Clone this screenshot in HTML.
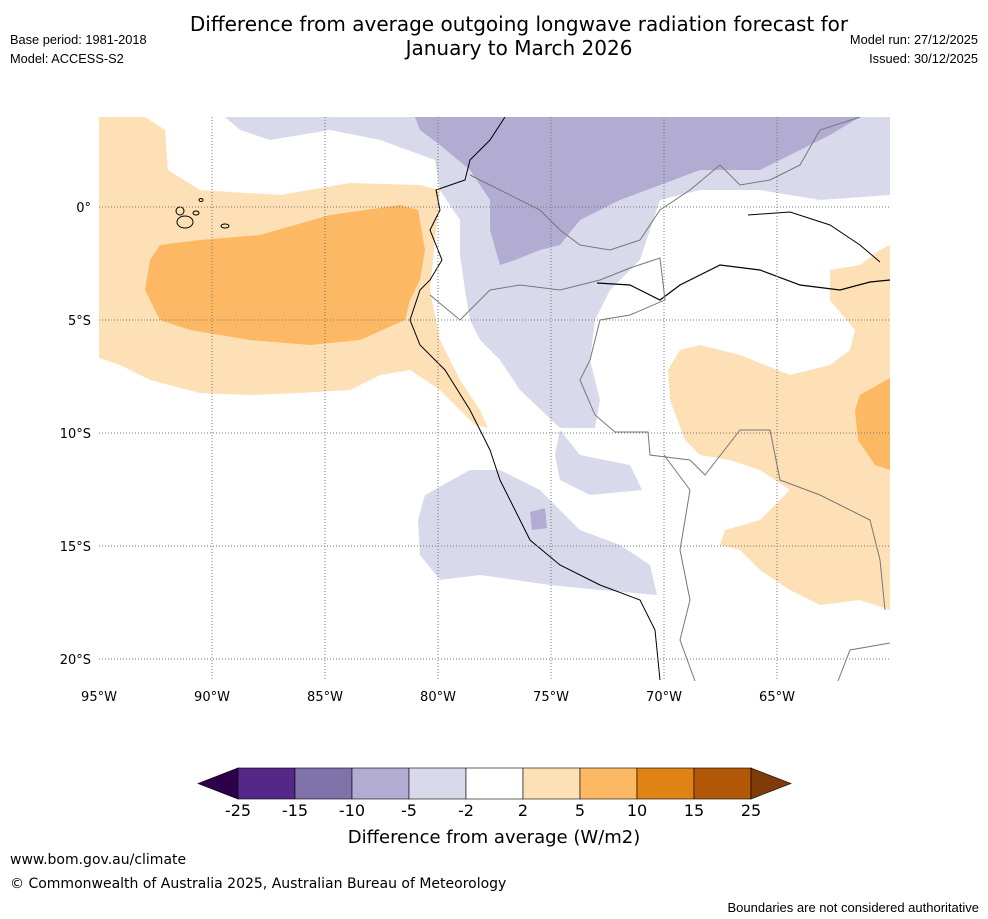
<!DOCTYPE html>
<html><head><meta charset="utf-8">
<style>
body{margin:0;background:#fff;font-family:"Liberation Sans",sans-serif;}
#wrap{position:relative;width:988px;height:919px;overflow:hidden;background:#fff;}
.t{position:absolute;white-space:nowrap;color:#000;}
.dv{font-family:"DejaVu Sans",sans-serif;}
</style></head>
<body>
<div id="wrap">
<div class="t dv" style="left:0;width:1038px;text-align:center;top:12px;font-size:20px;line-height:24px">Difference from average outgoing longwave radiation forecast for<br>January to March 2026</div>
<div class="t" style="left:10px;top:32px;font-size:12.8px">Base period: 1981-2018</div>
<div class="t" style="left:10px;top:51px;font-size:12.8px">Model: ACCESS-S2</div>
<div class="t" style="right:10px;top:32px;font-size:12.8px">Model run: 27/12/2025</div>
<div class="t" style="right:10px;top:51px;font-size:12.8px">Issued: 30/12/2025</div>
<div class="t dv" style="left:10px;top:852px;font-size:14px">www.bom.gov.au/climate</div>
<div class="t dv" style="left:10px;top:876px;font-size:14px">© Commonwealth of Australia 2025, Australian Bureau of Meteorology</div>
<div class="t" style="right:9px;top:900px;font-size:13px">Boundaries are not considered authoritative</div>

<svg id="svg" width="988" height="919" style="position:absolute;left:0;top:0">
<defs><clipPath id="mc"><rect x="99" y="117" width="791" height="564"/></clipPath></defs>
<g clip-path="url(#mc)">
<polygon fill="#fee0b6" points="99,117 145,117 165,130 168,170 200,190 280,195 350,183 420,185 440,190 436,230 430,290 440,340 460,380 480,410 488,428 475,425 440,390 410,370 380,375 350,390 300,393 250,395 200,393 150,380 120,365 99,358"/>
<polygon fill="#fdb863" points="160,245 200,240 260,235 330,215 400,205 418,210 425,250 420,280 410,300 405,320 360,340 310,345 250,340 190,330 160,320 145,290 150,260"/>
<polygon fill="#d8daeb" points="225,117 890,117 890,195 820,200 760,190 700,190 660,200 650,230 640,260 610,290 595,320 590,360 600,400 595,428 560,428 520,390 500,360 480,340 470,320 465,290 460,255 460,220 440,190 435,160 380,140 330,130 270,140 240,130"/>
<polygon fill="#b2abd2" points="415,117 860,117 830,135 800,150 760,170 700,170 660,185 620,200 580,220 560,245 540,250 515,260 500,265 490,230 490,200 470,170 440,145 420,130"/>
<polygon fill="#d8daeb" points="560,430 580,455 630,465 642,490 590,495 560,480 555,455"/>
<polygon fill="#d8daeb" points="425,495 470,470 500,470 540,490 580,530 620,545 650,565 657,595 600,590 550,585 480,575 440,580 420,555 418,520"/>
<polygon fill="#b2abd2" points="530,512 545,508 547,528 532,530"/>
<polygon fill="#fee0b6" points="680,350 700,345 740,355 790,375 830,365 850,350 855,330 830,300 830,270 860,265 880,250 890,245 890,610 860,600 820,605 790,590 760,570 740,550 720,545 725,530 760,520 790,490 760,470 730,460 700,455 685,440 670,400 668,370"/>
<polygon fill="#fdb863" points="860,395 890,378 890,470 875,465 858,440 855,410"/>
<polyline fill="none" stroke="#000" stroke-width="1" points="505,117 490,140 470,160 465,180 436,190 440,210 430,230 442,260 430,280 420,290 410,320 420,345 445,370 470,410 490,450 500,480 515,510 530,540 560,565 600,585 640,600 655,630 660,680"/>
<polyline fill="none" stroke="#000" stroke-width="1.2" points="597,283 630,285 660,300 680,285 700,275 720,265 760,270 800,285 840,290 870,282 890,280"/>
<polyline fill="none" stroke="#000" stroke-width="1" points="748,215 790,212 830,225 860,245 880,262"/>
<g fill="none" stroke="#777" stroke-width="1">
<polyline points="470,175 500,190 540,210 560,230 580,245 610,250 640,240 660,210 690,190 720,165 740,185 770,180 800,165 820,130 860,117"/>
<polyline points="430,295 460,320 490,290 520,285 560,290 600,280 630,268 660,258 665,300 630,315 600,320 590,360 580,380 595,415 615,432 648,432 650,455 690,460 705,475 740,430 770,430 780,480 820,495 870,520 880,560 885,610"/>
<polyline points="664,455 690,490 680,550 690,600 680,640 695,681"/>
<polyline points="838,681 850,650 890,643"/>
</g>
<g fill="none" stroke="#000" stroke-width="1">
<ellipse cx="185" cy="222" rx="8" ry="6"/><ellipse cx="180" cy="211" rx="4" ry="4"/><ellipse cx="196" cy="213" rx="3" ry="2"/><ellipse cx="225" cy="226" rx="4" ry="2"/><ellipse cx="201" cy="200" rx="2" ry="1.5"/>
</g>
</g>
<g id="grid" stroke="#777" stroke-width="1" stroke-dasharray="1,2"></g>
<g id="axes" font-family="DejaVu Sans,sans-serif" font-size="13"></g>
<g id="cbar"></g>
<text x="494" y="843" text-anchor="middle" font-size="18" font-family="DejaVu Sans,sans-serif">Difference from average (W/m2)</text>
</svg>
</div>
<script>
const lonTicks=[-95,-90,-85,-80,-75,-70,-65];
const lonLabels=["95°W","90°W","85°W","80°W","75°W","70°W","65°W"];
const latTicks=[0,-5,-10,-15,-20];
const latLabels=["0°","5°S","10°S","15°S","20°S"];
const cbLevels=[-25,-15,-10,-5,-2,2,5,10,15,25];
const cbColors=["#542788","#8073ac","#b2abd2","#d8daeb","#ffffff","#fee0b6","#fdb863","#e08214","#b35806"];
const cbUnder="#2d004b", cbOver="#7f3b08";
const NS="http://www.w3.org/2000/svg";
function xLon(l){return 99+(l+95)*22.6;}
function yLat(l){return 207-l*22.6;}
function mk(t,a,p){const e=document.createElementNS(NS,t);for(const k in a)e.setAttribute(k,a[k]);p.appendChild(e);return e;}
const grid=document.getElementById('grid'),axes=document.getElementById('axes');
lonTicks.forEach((l,i)=>{
 const x=xLon(l);
 if(i>0){const g=mk('line',{x1:x,x2:x,y1:117,y2:681},grid);
 
 }
 const t=mk('text',{x:x,y:701,'text-anchor':'middle'},axes);t.textContent=lonLabels[i];
 
 
});
latTicks.forEach((l,i)=>{
 const y=yLat(l);
 const g=mk('line',{x1:99,x2:890,y1:y,y2:y},grid);
 
 
 const t=mk('text',{x:91,y:y+5,'text-anchor':'end'},axes);t.textContent=latLabels[i];
 
 
});
const cb=document.getElementById('cbar');
const x0=238,w=57,y0=768,h=31;
const n=cbColors.length;
const under=mk('polygon',{points:`198,${y0+h/2} ${x0},${y0} ${x0},${y0+h}`,fill:cbUnder,stroke:'#000','stroke-width':0.6},cb);


const xe=x0+n*w;
cbColors.forEach((c,i)=>{
 const r=mk('rect',{x:x0+i*w,y:y0,width:w,height:h,fill:c,stroke:'#000','stroke-width':0.6},cb);
 
 
});
const over=mk('polygon',{points:`${xe},${y0} ${xe+40},${y0+h/2} ${xe},${y0+h}`,fill:cbOver,stroke:'#000','stroke-width':0.6},cb);


cbLevels.forEach((v,i)=>{
 const t=mk('text',{x:x0+i*w,y:816,'text-anchor':'middle','font-size':16,'font-family':'DejaVu Sans,sans-serif'},cb);
 t.textContent=String(v);
 
 
});
</script>
</body></html>
